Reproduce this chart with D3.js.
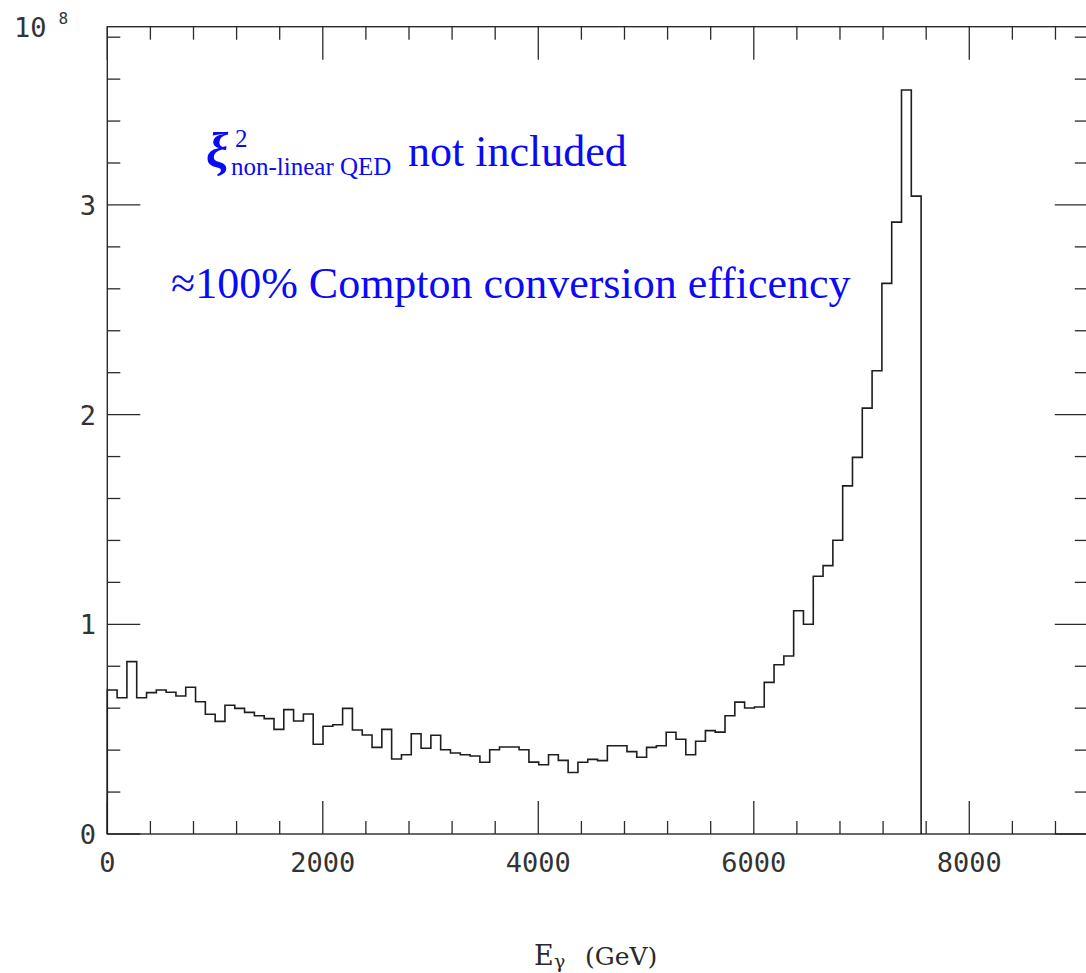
<!DOCTYPE html>
<html>
<head>
<meta charset="utf-8">
<script src="https://cdn.jsdelivr.net/npm/d3@7"></script>
<style>
  html, body { margin: 0; padding: 0; background: #fff; overflow: hidden; }
  svg { display: block; }
</style>
</head>
<body>
<svg id="chart" width="1086" height="973"></svg>
<script>
// Photon energy spectrum, counts per bin in units of 10^8
const binWidth = 91; // GeV
const counts = [
  0.687, 0.650, 0.822, 0.650, 0.674, 0.687, 0.676, 0.658, 0.700, 0.631,
  0.571, 0.537, 0.614, 0.599, 0.580, 0.564, 0.550, 0.499, 0.593, 0.539,
  0.572, 0.428, 0.514, 0.521, 0.599, 0.496, 0.472, 0.413, 0.499, 0.358,
  0.378, 0.478, 0.409, 0.471, 0.402, 0.386, 0.378, 0.372, 0.342, 0.402,
  0.415, 0.415, 0.402, 0.343, 0.330, 0.378, 0.351, 0.293, 0.342, 0.356,
  0.350, 0.421, 0.421, 0.393, 0.366, 0.413, 0.421, 0.485, 0.452, 0.378,
  0.442, 0.493, 0.486, 0.564, 0.629, 0.601, 0.606, 0.723, 0.807, 0.849,
  1.065, 1.000, 1.229, 1.280, 1.401, 1.660, 1.796, 2.031, 2.209, 2.626,
  2.918, 3.548, 3.042
];
const xDomain = [0, 9100];
const yDomain = [0, 3.85];
const xMajorTicks = [0, 2000, 4000, 6000, 8000];
const xMinorStep = 400;
const yMajorTicks = [0, 1, 2, 3];
const yMinorStep = 0.2;
const xTitle = "E";
const xTitleSub = "γ";
const xTitleUnit = "(GeV)";

const svg = d3.select("#chart");
const plotLeft = 107.3, plotRight = 1087.8, plotTop = 26.7, plotBottom = 834;
const x = d3.scaleLinear().domain(xDomain).range([plotLeft, plotRight]);
const y = d3.scaleLinear().domain(yDomain).range([plotBottom, plotTop]);

const ink = "#2a2a2a";
const labelFont = "'DejaVu Sans Mono', monospace";

// frame
svg.append("rect")
  .attr("x", plotLeft).attr("y", plotTop)
  .attr("width", plotRight - plotLeft).attr("height", plotBottom - plotTop)
  .attr("fill", "none").attr("stroke", ink).attr("stroke-width", 1.4);

// tick marks pointing inward on all four sides
const majorLen = 33, minorLen = 13;
const xMinor = d3.range(xDomain[0], xDomain[1] + 1, xMinorStep);
const yMinor = d3.range(0, yDomain[1] + 1e-9, yMinorStep).map(v => +v.toFixed(3));
const isMajorX = v => v % 2000 === 0;
const isMajorY = v => Math.abs(v - Math.round(v)) < 1e-6;

const ticks = svg.append("g").attr("stroke", ink).attr("stroke-width", 1.3);
xMinor.forEach(v => {
  const len = isMajorX(v) ? majorLen : minorLen;
  ticks.append("line").attr("x1", x(v)).attr("x2", x(v)).attr("y1", plotBottom).attr("y2", plotBottom - len);
  ticks.append("line").attr("x1", x(v)).attr("x2", x(v)).attr("y1", plotTop).attr("y2", plotTop + len);
});
yMinor.forEach(v => {
  const len = isMajorY(v) ? majorLen : minorLen;
  ticks.append("line").attr("x1", plotLeft).attr("x2", plotLeft + len).attr("y1", y(v)).attr("y2", y(v));
  ticks.append("line").attr("x1", plotRight).attr("x2", plotRight - len).attr("y1", y(v)).attr("y2", y(v));
});

// tick labels
svg.append("g").selectAll("text").data(xMajorTicks).join("text")
  .attr("x", d => x(d)).attr("y", 872)
  .attr("text-anchor", "middle")
  .attr("font-family", labelFont).attr("font-size", 27)
  .attr("fill", "#333")
  .text(d => d);

svg.append("g").selectAll("text").data(yMajorTicks).join("text")
  .attr("x", 96).attr("y", d => y(d) + 10)
  .attr("text-anchor", "end")
  .attr("font-family", labelFont).attr("font-size", 27)
  .attr("fill", "#333")
  .text(d => d);

// axis scale factor
const pow = svg.append("text").attr("x", 14).attr("y", 37)
  .attr("font-family", labelFont).attr("font-size", 27).attr("fill", "#333");
pow.append("tspan").text("10");
pow.append("tspan").attr("dx", 12).attr("dy", -13).attr("font-size", 16).text("8");

// x-axis title
const titleFont = "'DejaVu Serif', serif";
svg.append("text").attr("x", 534).attr("y", 965)
  .attr("font-family", titleFont).attr("font-size", 27).attr("fill", ink)
  .text(xTitle);
svg.append("text").attr("x", 554).attr("y", 968)
  .attr("font-family", titleFont).attr("font-size", 19).attr("fill", ink)
  .text(xTitleSub);
svg.append("text").attr("x", 585).attr("y", 965)
  .attr("font-family", titleFont).attr("font-size", 25).attr("fill", ink)
  .text(xTitleUnit);

// histogram outline
const edges = counts.map((_, i) => i * binWidth);
let d = `M${x(0)},${y(0)}`;
counts.forEach((c, i) => {
  d += `V${y(c)}H${x(edges[i] + binWidth)}`;
});
d += `V${y(0)}`;
svg.append("path").attr("d", d)
  .attr("fill", "none").attr("stroke", "#1e1e1e").attr("stroke-width", 1.6)
  .attr("stroke-linejoin", "miter");

// annotations
const blue = "#0a0af5";
const serif = "'Liberation Serif', 'Times New Roman', serif";
const note = svg.append("g").attr("font-family", serif).attr("fill", blue);
note.append("text").attr("x", 206).attr("y", 168)
  .attr("font-size", 50).attr("font-style", "italic").attr("font-weight", "bold").text("ξ");
note.append("text").attr("x", 235).attr("y", 147).attr("font-size", 25).text("2");
note.append("text").attr("x", 231).attr("y", 175).attr("font-size", 25).text("non-linear QED");
note.append("text").attr("x", 408).attr("y", 166).attr("font-size", 44).text("not included");
note.append("text").attr("x", 171).attr("y", 298).attr("font-size", 44)
  .text("≈100% Compton conversion efficency");
</script>
</body>
</html>
